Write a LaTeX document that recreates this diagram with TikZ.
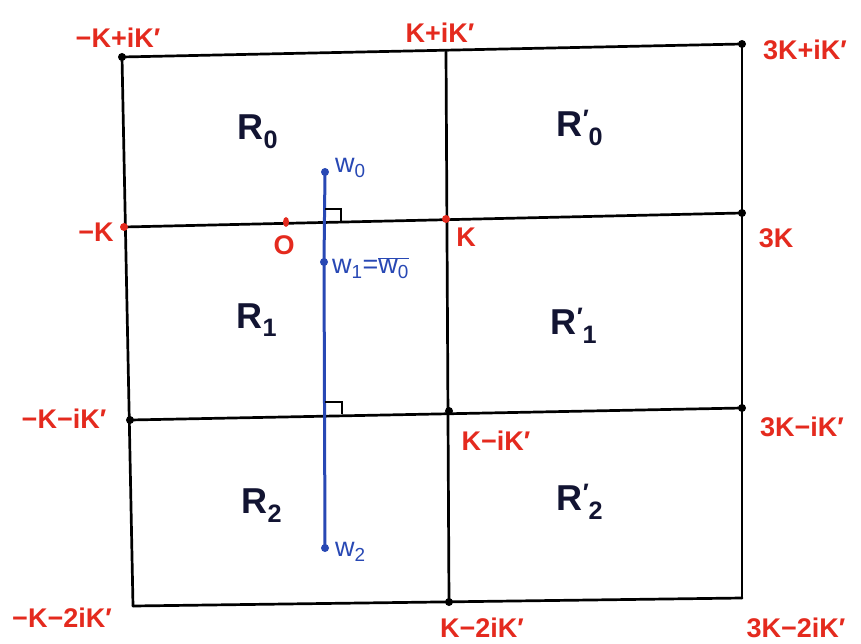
\documentclass[tikz,border=0pt]{standalone}
\usepackage{fontspec}
\usetikzlibrary{shapes.geometric}
\setmainfont{Liberation Sans}
\definecolor{hred}{RGB}{228,42,30}
\definecolor{hblue}{RGB}{40,72,180}
\definecolor{hink}{RGB}{18,20,50}
\begin{document}
\begin{tikzpicture}[x=1pt,y=-1pt,
  grid/.style={line width=2.7pt,black,line cap=round},
  wline/.style={line width=3pt,hblue},
  rlab/.style={text=hred,font=\fontsize{27}{27}\selectfont\bfseries,inner sep=0pt},
  reg/.style={text=hink,font=\fontsize{36}{36}\selectfont\bfseries,inner sep=0pt},
  wlab/.style={text=hblue,font=\fontsize{27}{27}\selectfont,inner sep=0pt},
  bdot/.style={circle,fill=black,inner sep=0pt,minimum size=8pt},
  rdot/.style={circle,fill=hred,inner sep=0pt,minimum size=8pt},
  udot/.style={circle,fill=hblue,inner sep=0pt,minimum size=8pt},
  ramark/.style={line width=1.8pt,black}]
\useasboundingbox (0,0) rectangle (861,644);
% grid corners
\coordinate (a0) at (122,57);  \coordinate (b0) at (446,52);  \coordinate (c0) at (742,44);
\coordinate (a1) at (124,227); \coordinate (b1) at (446,219); \coordinate (c1) at (742,213);
\coordinate (a2) at (130,420); \coordinate (b2) at (449,411); \coordinate (c2) at (742,408);
\coordinate (a3) at (133,606); \coordinate (b3) at (449,602); \coordinate (c3) at (742,598);
% grid lines
\draw[grid] (a0) -- (c0);
\draw[grid] (a1) -- (c1);
\draw[grid] (a2) -- (c2);
\draw[grid] (a3) -- (c3);
\draw[grid] (a0) -- (a3);
\draw[grid] (b0) -- (b3);
\draw[grid] (c0) -- (c3);
% blue segment
\coordinate (w0) at (325,172); \coordinate (w1) at (324,262); \coordinate (w2) at (325,548);
\draw[wline] (w0) -- (w1) -- (w2);
% right-angle marks
\coordinate (m1a) at (325,209); \coordinate (m1b) at (341,209); \coordinate (m1c) at (341,221);
\coordinate (m2a) at (325,402); \coordinate (m2b) at (342,402); \coordinate (m2c) at (342,414);
\draw[ramark] (m1a) -- (m1b) -- (m1c);
\draw[ramark] (m2a) -- (m2b) -- (m2c);
% dots
\node[bdot] (d1) at (a0) {};
\node[bdot] (d2) at (c0) {};
\node[rdot] (d3) at (a1) {};
\node[ellipse,fill=hred,inner sep=0pt,minimum width=6pt,minimum height=10pt] (d4) at (286,222) {};
\node[rdot] (d5) at (b1) {};
\node[bdot] (d6) at (c1) {};
\node[bdot] (d7) at (a2) {};
\node[bdot] (d8) at (b2) {};
\node[bdot] (d9) at (c2) {};
\node[bdot] (d10) at (b3) {};
\node[udot] (d11) at (w0) {};
\node[udot] (d12) at (w1) {};
\node[udot] (d13) at (w2) {};
% red labels
\node[rlab] (l1) at (118,38) {−K+iK′};
\node[rlab] (l2) at (440,33) {K+iK′};
\node[rlab] (l3) at (805,50) {3K+iK′};
\node[rlab] (l4) at (96,232) {−K};
\node[rlab] (l5) at (284,245) {O};
\node[rlab] (l6) at (466,237) {K};
\node[rlab] (l7) at (776,238) {3K};
\node[rlab] (l8) at (64,419) {−K−iK′};
\node[rlab] (l9) at (496,441) {K−iK′};
\node[rlab] (l10) at (802,427) {3K−iK′};
\node[rlab] (l11) at (62,618) {−K−2iK′};
\node[rlab] (l12) at (482,628) {K−2iK′};
\node[rlab] (l13) at (796,628) {3K−2iK′};
% region labels
\node[reg] (r0) at (258,132) {R\textsubscript{0}};
\node[reg] (r0p) at (580,128) {R\textsuperscript{′}\kern-1pt\textsubscript{0}};
\node[reg] (r1) at (257,320) {R\textsubscript{1}};
\node[reg] (r1p) at (574,326) {R\textsuperscript{′}\kern-1pt\textsubscript{1}};
\node[reg] (r2) at (262,506) {R\textsubscript{2}};
\node[reg] (r2p) at (580,502) {R\textsuperscript{′}\kern-1pt\textsubscript{2}};
% w labels
\node[wlab,anchor=west] (lw0) at (335,168) {w\textsubscript{0}};
\node[wlab,anchor=west] (lw1) at (332,268) {w\textsubscript{1}=$\overline{\hbox{w\textsubscript{0}}}$};
\node[wlab,anchor=west] (lw2) at (335,552) {w\textsubscript{2}};
\end{tikzpicture}
\end{document}
